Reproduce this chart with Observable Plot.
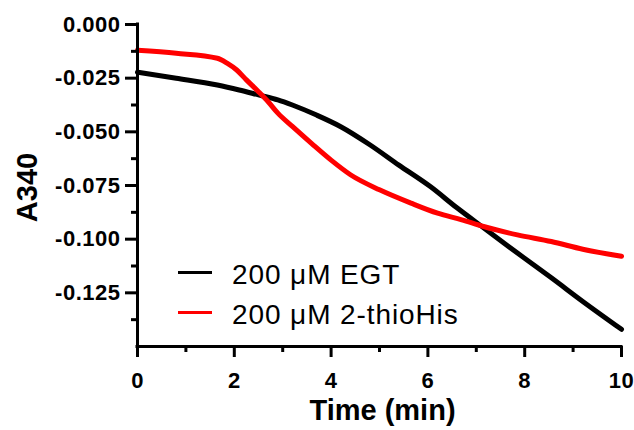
<!DOCTYPE html>
<html><head><meta charset="utf-8">
<script src="https://cdn.jsdelivr.net/npm/d3@7"></script>
<script src="https://cdn.jsdelivr.net/npm/@observablehq/plot@0.6"></script>
<style>
body{margin:0;background:#fff;}
#wrap{position:relative;width:634px;height:430px;font-family:"Liberation Sans",Arial,sans-serif;}
#wrap svg{display:block;}
g[aria-label="y-axis tick label"], g[aria-label="x-axis tick label"]{font-weight:bold;letter-spacing:0.5px;}
.legrow{position:absolute;left:232px;font-size:28px;line-height:28px;color:#000;white-space:nowrap;letter-spacing:0.9px;}
.legline{position:absolute;left:178px;width:34px;height:3px;}
</style></head><body><div id="wrap"></div><script>
const seriesNames = ["200 μM EGT", "200 μM 2-thioHis"];
const seriesColors = ["#000000", "#ff0000"];

const timeEGT = [0, 0.8, 1.65, 2.1, 2.5, 2.9, 3.2, 3.7, 4.2, 4.8, 5.4, 6.05, 6.6, 7.15, 7.85, 8.55, 9.2, 10];
const a340EGT = [-0.0222, -0.0250, -0.0282, -0.0305, -0.0328, -0.0351, -0.0375, -0.0422, -0.0476, -0.0560, -0.0655, -0.0755, -0.0854, -0.0947, -0.1065, -0.1180, -0.1290, -0.1420];

const timeThio = [0, 0.8, 1.65, 1.85, 2.05, 2.25, 2.5, 2.7, 2.9, 3.2, 3.6, 4.0, 4.4, 5.0, 5.65, 6.2, 6.7, 7.15, 7.85, 8.55, 9.2, 10];
const a340Thio = [-0.0120, -0.0134, -0.0157, -0.0180, -0.0212, -0.0258, -0.0313, -0.0360, -0.0413, -0.0475, -0.0555, -0.0632, -0.0700, -0.0770, -0.0832, -0.0879, -0.0910, -0.0941, -0.0980, -0.1011, -0.1047, -0.1080];

const xMajorTicks = [0, 2, 4, 6, 8, 10];
const xMinorTicks = [1, 3, 5, 7, 9];
const yMajorTicks = [0, -0.025, -0.05, -0.075, -0.1, -0.125];
const yMinorTicks = [-0.0125, -0.0375, -0.0625, -0.0875, -0.1125, -0.1375];
const xTitle = "Time (min)";
const yTitle = "A340";

const data = [
  ...timeEGT.map((t, i) => ({t, a: a340EGT[i], s: seriesNames[0]})),
  ...timeThio.map((t, i) => ({t, a: a340Thio[i], s: seriesNames[1]}))
];
const fmt = d => (d < 0 ? "-" : "") + Math.abs(d).toFixed(3);

const chart = Plot.plot({
  width: 634, height: 430,
  marginLeft: 137, marginRight: 13, marginTop: 24, marginBottom: 84,
  style: {fontFamily: "'Liberation Sans', Arial, sans-serif", background: "white", color: "black"},
  x: {domain: [0, 10]},
  y: {domain: [-0.15, 0]},
  color: {domain: seriesNames, range: seriesColors},
  marks: [
    Plot.line(data, {x: "t", y: "a", z: "s", stroke: "s", strokeWidth: 5, curve: "monotone-x"}),
    Plot.axisY(yMajorTicks, {tickSize: 12, tickPadding: 5, strokeWidth: 3, tickFormat: fmt, fontSize: 22, fontWeight: "bold", label: null}),
    Plot.axisY(yMinorTicks, {tickSize: 6, strokeWidth: 3, tickFormat: () => "", label: null}),
    Plot.axisX(xMajorTicks, {tickSize: 11, tickPadding: 15, strokeWidth: 3, tickFormat: d => String(d), fontSize: 22, fontWeight: "bold", label: null}),
    Plot.axisX(xMinorTicks, {tickSize: 6, strokeWidth: 3, tickFormat: () => "", label: null}),
    Plot.ruleX([0], {strokeWidth: 3, strokeLinecap: "square"}),
    Plot.ruleY([-0.15], {strokeWidth: 3, strokeLinecap: "square"}),
    Plot.text([xTitle], {frameAnchor: "bottom", lineAnchor: "middle", textAnchor: "middle", dy: 64, dx: 3, fontSize: 29, fontWeight: "bold"}),
    Plot.text([yTitle], {frameAnchor: "left", lineAnchor: "middle", textAnchor: "middle", rotate: -90, dx: -110, dy: 2, fontSize: 29, fontWeight: "bold"})
  ]
});
const wrap = document.getElementById("wrap");
wrap.appendChild(chart);
seriesNames.forEach((name, i) => {
  const ln = document.createElement("div");
  ln.className = "legline";
  ln.style.top = (270.5 + 40 * i) + "px";
  ln.style.background = seriesColors[i];
  wrap.appendChild(ln);
  const tx = document.createElement("div");
  tx.className = "legrow";
  tx.style.top = (261 + 40 * i) + "px";
  tx.textContent = name;
  wrap.appendChild(tx);
});
</script></body></html>
